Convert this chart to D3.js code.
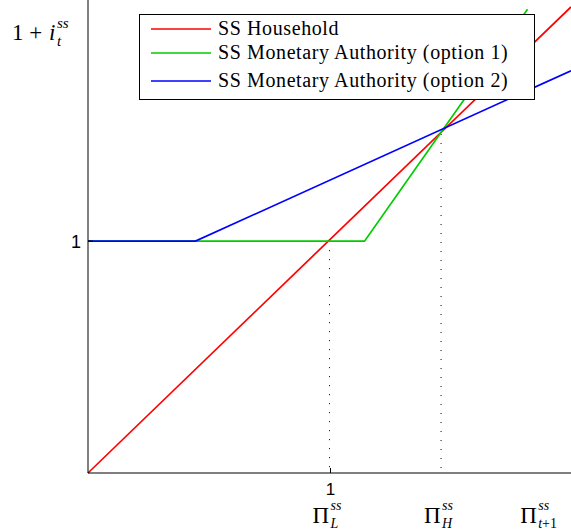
<!DOCTYPE html>
<html><head><meta charset="utf-8">
<script src="https://cdn.jsdelivr.net/npm/d3@7"></script>
<style>body{margin:0;background:#fff}svg{display:block}</style>
</head><body><svg id="c" width="571" height="530"></svg>
<script>
// Data (in chart units)
const seriesNames = ["SS Household", "SS Monetary Authority (option 1)", "SS Monetary Authority (option 2)"];
const seriesColors = ["#ff0000", "#00cc00", "#0000ff"];
const household = [[0, 0], [2, 2.01]];
const authority1 = [[0, 1], [1.145, 1], [1.82, 2.0]];
const authority2 = [[0, 1], [0.445, 1], [2, 1.735]];
const piL = 1, piH = 1.462;
const xTickValues = [1];
const yTickValues = [1];
const xAxisLabels = [["L", 1], ["H", 1.462], ["t+1", 1.86]];

const svg = d3.select("#c");
const x = d3.scaleLinear().domain([0, 2]).range([88, 571]);
const y = d3.scaleLinear().domain([0, 2.04]).range([473, 0]);
const line = d3.line().x(d => x(d[0])).y(d => y(d[1]));

// dotted guides
[[piL, piL], [piH, piH]].forEach(p => {
  svg.append("line").attr("x1", x(p[0])).attr("x2", x(p[0]))
    .attr("y1", y(p[1])).attr("y2", y(0))
    .attr("stroke", "#000").attr("stroke-width", 1).attr("stroke-dasharray", "1,8");
});

// series
[household, authority1, authority2].forEach((s, i) => {
  svg.append("path").datum(s).attr("d", line).attr("fill", "none")
    .attr("stroke", seriesColors[i]).attr("stroke-width", 1.7);
});

// axes
svg.append("line").attr("x1", x(0)).attr("x2", x(0)).attr("y1", 0).attr("y2", y(0)).attr("stroke", "#000").attr("stroke-width", 1);
svg.append("line").attr("x1", x(0)).attr("x2", 571).attr("y1", y(0)).attr("y2", y(0)).attr("stroke", "#000").attr("stroke-width", 1);
xTickValues.forEach(v => {
  svg.append("line").attr("x1", x(v) + 1).attr("x2", x(v) + 1).attr("y1", y(0)).attr("y2", y(0) - 5).attr("stroke", "#000");
  svg.append("text").attr("x", x(v) + 1).attr("y", 495).attr("text-anchor", "middle")
    .attr("font-family", "Liberation Sans, Arial, sans-serif").attr("font-size", 17).text(v);
});
yTickValues.forEach(v => {
  svg.append("line").attr("x1", x(0)).attr("x2", x(0) + 5).attr("y1", y(v)).attr("y2", y(v)).attr("stroke", "#000");
  svg.append("text").attr("x", 81).attr("y", y(v) + 7).attr("text-anchor", "end")
    .attr("font-family", "Liberation Sans, Arial, sans-serif").attr("font-size", 18).text(v);
});

const serif = "Liberation Serif, DejaVu Serif, serif";
function piLabel(cx, sub) {
  const left = cx - 17;
  svg.append("text").attr("x", left).attr("y", 523).attr("font-family", serif).attr("font-size", 23).text("\u03A0");
  svg.append("text").attr("x", left + 18).attr("y", 510).attr("font-family", serif).attr("font-size", 14)
    .attr("font-style", "italic").text("ss");
  const s = svg.append("text").attr("x", left + 18).attr("y", 528).attr("font-family", serif).attr("font-size", 14);
  if (sub === "t+1") {
    s.append("tspan").attr("font-style", "italic").text("t");
    s.append("tspan").text("+1");
  } else {
    s.attr("font-style", "italic").text(sub);
  }
}
xAxisLabels.forEach(d => piLabel(x(d[1]), d[0]));

// y label
svg.append("text").attr("x", 12).attr("y", 40).attr("font-family", serif).attr("font-size", 23).text("1 +");
svg.append("text").attr("x", 49).attr("y", 40).attr("font-family", serif).attr("font-size", 23).attr("font-style", "italic").text("i");
svg.append("text").attr("x", 57).attr("y", 28).attr("font-family", serif).attr("font-size", 15).attr("font-style", "italic").text("ss");
svg.append("text").attr("x", 57).attr("y", 46).attr("font-family", serif).attr("font-size", 15).attr("font-style", "italic").text("t");

// legend
const lg = svg.append("g");
lg.append("rect").attr("x", 139.5).attr("y", 14.5).attr("width", 395).attr("height", 85)
  .attr("fill", "#fff").attr("stroke", "#000").attr("stroke-width", 1);
const rowY = [29, 53, 81];
seriesNames.forEach((n, i) => {
  lg.append("line").attr("x1", 151).attr("x2", 211).attr("y1", rowY[i]).attr("y2", rowY[i])
    .attr("stroke", seriesColors[i]).attr("stroke-width", 1.7);
  lg.append("text").attr("x", 218).attr("y", rowY[i] + 6).attr("font-family", serif)
    .attr("font-size", 20).attr("letter-spacing", 0.6).text(n);
});
</script></body></html>
